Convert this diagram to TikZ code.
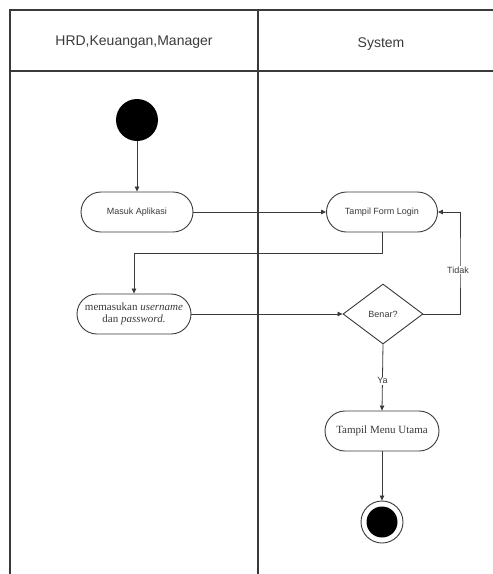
\documentclass[tikz,border=0pt]{standalone}
\usepackage{fontspec}
\setmainfont{Liberation Serif}
\newfontfamily\arialf{Liberation Sans}
\usetikzlibrary{shapes.geometric,arrows.meta,positioning}
\definecolor{ln}{HTML}{3A3A3A}
\tikzset{
  act/.style={draw=ln, line width=0.9pt, rounded corners=20pt, minimum height=40pt, inner sep=2pt, align=center, text=ln},
  sanslbl/.style={font=\arialf\fontsize{9}{11}\selectfont},
  seriflbl/.style={font=\fontsize{11}{12.5}\selectfont},
  flow/.style={draw=ln, line width=0.8pt, -{Triangle[length=5pt,width=4.5pt]}},
  frame/.style={draw=ln, line width=1.4pt},
  lbl/.style={fill=white, inner sep=1pt, text=ln, font=\arialf\fontsize{9}{11}\selectfont}
}
\begin{document}
\begin{tikzpicture}[x=1pt,y=-1pt]
\useasboundingbox (0,0) rectangle (493,574);
% swimlane frame
\draw[frame] (10,574) -- (10,10) -- (493,10);
\draw[frame] (10,71) -- (493,71);
\draw[frame] (258,10) -- (258,574);
\node[text=ln, font=\arialf\fontsize{14}{16}\selectfont] (h1) at (134,42) {HRD,Keuangan,Manager};
\node[text=ln, font=\arialf\fontsize{14}{16}\selectfont] (h2) at (381,44) {System};
% nodes
\node[circle, fill=black, minimum size=42pt, inner sep=0] (start) at (137,120) {};
\node[act, sanslbl, minimum width=112pt] (masuk) at (137,212) {Masuk Aplikasi};
\node[act, sanslbl, minimum width=111pt] (form) at (382,212) {Tampil Form Login};
\node[act, seriflbl, minimum width=114pt, inner sep=1pt] (input) at (134,314) {memasukan \textit{username}\\dan \textit{password.}};
\node[diamond, draw=ln, line width=0.9pt, minimum width=80pt, minimum height=60pt, inner sep=0pt, sanslbl, text=ln] (cek) at (383,314) {Benar?};
\node[act, seriflbl, minimum width=114pt] (menu) at (382,431) {Tampil Menu Utama};
\node[circle, draw=ln, line width=0.9pt, fill=white, minimum size=42pt, inner sep=0] (end) at (382,522) {};
\node[circle, fill=black, minimum size=31pt, inner sep=0] (endin) at (end) {};
% flows
\draw[flow] (start) -- (masuk);
\draw[flow] (masuk) -- (form);
\draw[flow] (form.south) |- (134,253) -| (input.north);
\draw[flow] (input) -- (cek);
\draw[flow] (cek.east) -| (460,262) node[lbl] (tidak) at (458,270) {Tidak} |- (form.east);
\draw[flow] (cek.south) -- node[lbl, pos=0.55] (ya) {Ya} (menu.north);
\draw[flow] (menu) -- (end);
\end{tikzpicture}
\end{document}
